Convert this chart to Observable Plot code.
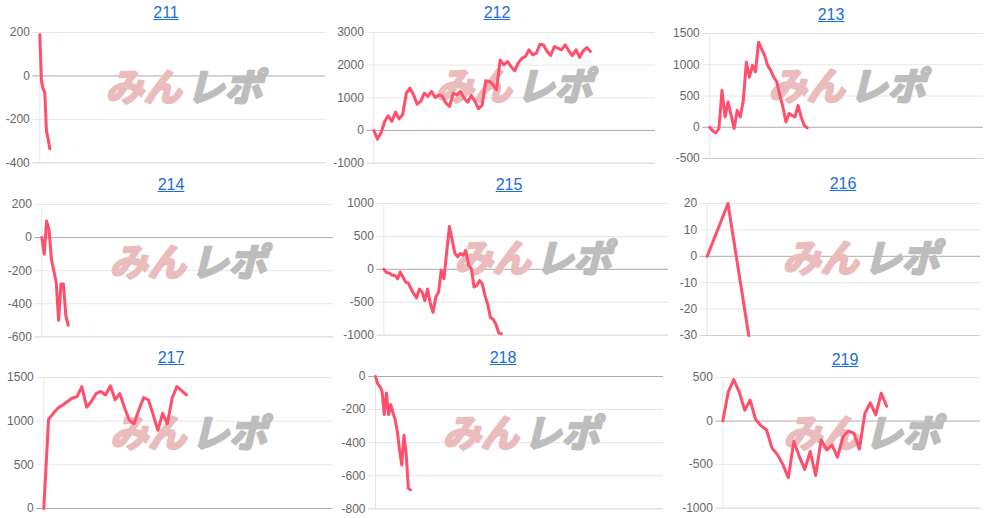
<!DOCTYPE html>
<html>
<head>
<meta charset="utf-8">
<script src="https://cdn.jsdelivr.net/npm/d3@7"></script>
<script src="https://cdn.jsdelivr.net/npm/@observablehq/plot@0.6"></script>
<style>
  html, body { margin: 0; padding: 0; background: #fff; }
  #wrap { position: relative; width: 990px; height: 518px; overflow: hidden; font-family: "Liberation Sans", Arial, sans-serif; }
  .ttl { position: absolute; transform: translate(-50%, -50%); color: #1a6ed8; text-decoration: underline; font-size: 16px; line-height: 1; white-space: nowrap; }
</style>
</head>
<body>
<div id="wrap"></div>
<script>
// ---- data ----
const ids = ["211", "212", "213", "214", "215", "216", "217", "218", "219"];

const v211 = [190, -25, -60, -75, -255, -290, -335];
const v212 = [0, -265, -80, 275, 450, 275, 560, 355, 480, 1140, 1295, 1090, 805, 890, 1140, 1040, 1195, 1010, 1090, 1040, 835, 735, 1140, 1090, 1195, 990, 865, 1070, 890, 665, 765, 1520, 1500, 1400, 1245, 2160, 2010, 2110, 1960, 1825, 2060, 2210, 2265, 2470, 2315, 2365, 2640, 2620, 2420, 2295, 2570, 2520, 2470, 2620, 2440, 2295, 2470, 2235, 2440, 2540, 2420];
const v213 = [0, -60, -90, -20, 590, 165, 405, 190, -20, 270, 165, 430, 1040, 800, 990, 885, 1360, 1255, 1150, 990, 910, 800, 725, 510, 325, 85, 220, 190, 165, 350, 165, 30, -10];
const v214 = [0, -100, 100, 50, -130, -200, -270, -500, -280, -280, -470, -530];
const v215 = [0, -50, -55, -90, -90, -145, -40, -120, -195, -210, -300, -375, -435, -300, -350, -475, -300, -520, -655, -425, -350, -15, -145, 265, 650, 445, 240, 190, 240, 215, 290, 60, 10, -270, -245, -170, -220, -400, -530, -735, -760, -835, -965, -980];
const v216 = [0, 20, -30];
const v217 = [0, 1020, 1090, 1150, 1185, 1225, 1265, 1280, 1395, 1160, 1225, 1315, 1340, 1300, 1405, 1245, 1315, 1150, 1010, 970, 1130, 1270, 1245, 1075, 895, 1090, 970, 1265, 1395, 1350, 1300];
const v218 = [0, -45, -60, -90, -230, -100, -230, -170, -220, -260, -335, -445, -535, -355, -465, -675, -685];
const v219 = [0, 335, 475, 335, 125, 240, 20, -55, -100, -310, -385, -500, -650, -235, -405, -555, -350, -625, -215, -330, -275, -415, -180, -115, -140, -320, 85, 210, 70, 320, 170];

const t211 = [-400, -200, 0, 200];
const t212 = [-1000, 0, 1000, 2000, 3000];
const t213 = [-500, 0, 500, 1000, 1500];
const t214 = [-600, -400, -200, 0, 200];
const t215 = [-1000, -500, 0, 500, 1000];
const t216 = [-30, -20, -10, 0, 10, 20];
const t217 = [0, 500, 1000, 1500];
const t218 = [-800, -600, -400, -200, 0];
const t219 = [-1000, -500, 0, 500];

// share of each panel's x range covered by its session
const spans = [0.035, 0.769, 0.356, 0.0905, 0.413, 0.152, 0.494, 0.1215, 0.636];

const series = [v211, v212, v213, v214, v215, v216, v217, v218, v219];
const tickSets = [t211, t212, t213, t214, t215, t216, t217, t218, t219];

// ---- layout (pixels) ----
const layout = [
  {px: 0,   axisX: 39.3,  gridEnd: 325, top: 31.7,  bottom: 162,   tx: 166, ty: 13,    wx: 183,   wy: 88},
  {px: 330, axisX: 373.3, gridEnd: 655, top: 31.7,  bottom: 162.3, tx: 497, ty: 13,    wx: 513,   wy: 87},
  {px: 660, axisX: 709.3, gridEnd: 983, top: 33.3,  bottom: 158.3, tx: 831, ty: 15,    wx: 846,   wy: 88},
  {px: 0,   axisX: 41.3,  gridEnd: 333, top: 204.3, bottom: 336.7, tx: 171, ty: 185,   wx: 187,   wy: 264},
  {px: 330, axisX: 383.3, gridEnd: 668, top: 202.7, bottom: 334.3, tx: 509, ty: 184.5, wx: 532,   wy: 259},
  {px: 660, axisX: 706.7, gridEnd: 980, top: 203,   bottom: 335,   tx: 843, ty: 183.5, wx: 860,   wy: 259},
  {px: 0,   axisX: 43.3,  gridEnd: 332, top: 377.3, bottom: 508.3, tx: 171, ty: 358,   wx: 187.5, wy: 435},
  {px: 330, axisX: 375,   gridEnd: 663, top: 376.3, bottom: 508.7, tx: 503, ty: 358,   wx: 520,   wy: 435},
  {px: 660, axisX: 722.3, gridEnd: 980, top: 377.3, bottom: 508,   tx: 845, ty: 360,   wx: 861,   wy: 435}
];

const wrap = document.getElementById("wrap");
const PAD = 12;
const wmFont = '"Noto Sans CJK JP", sans-serif';

ids.forEach((id, i) => {
  const L = layout[i];
  const vals = series[i];
  const ticks = tickSets[i];
  const data = vals.map((v, k) => ({k, v}));
  const xMax = (vals.length - 1) / spans[i];
  const w = L.gridEnd - L.px;
  const h = (L.bottom - L.top) + 2 * PAD;
  const lo = ticks[0], hi = ticks[ticks.length - 1];
  const wmDx = L.wx - L.axisX;
  const wmDy = L.wy - L.top;

  const chart = Plot.plot({
    width: w,
    height: h,
    marginLeft: L.axisX - L.px,
    marginRight: 0,
    marginTop: PAD,
    marginBottom: PAD,
    style: {fontFamily: '"Liberation Sans", Arial, sans-serif', fontSize: "12px", background: "transparent", overflow: "visible"},
    x: {domain: [0, xMax], axis: null},
    y: {domain: [lo, hi], axis: null},
    marks: [
      Plot.ruleY(ticks, {stroke: d => d === 0 ? "#a9a9a9" : (d === lo ? "#d0d0d0" : "#e6e6e6"), insetLeft: -7}),
      Plot.ruleX([0], {stroke: "#e6e6e6"}),
      Plot.text(["みん"], {frameAnchor: "top-left", dx: wmDx - 40, dy: wmDy, text: d => d, fontSize: 38, fontWeight: "bold", fontStyle: "italic", fontFamily: wmFont, fill: "#ebbcbc", stroke: "#ebbcbc", strokeWidth: 2.5, textAnchor: "middle", lineAnchor: "middle"}),
      Plot.text(["レポ"], {frameAnchor: "top-left", dx: wmDx + 41, dy: wmDy, text: d => d, fontSize: 38, fontWeight: "bold", fontStyle: "italic", fontFamily: wmFont, fill: "#bdbdbd", stroke: "#bdbdbd", strokeWidth: 2.5, textAnchor: "middle", lineAnchor: "middle"}),
      Plot.axisY(ticks, {label: null, tickSize: 0, tickPadding: 10, fill: "#666", fontSize: 12, tickFormat: d => String(d)}),
      Plot.line(data, {x: "k", y: "v", stroke: "#ff4f6d", strokeWidth: 3, strokeLinejoin: "round", strokeLinecap: "round"})
    ]
  });
  chart.style.position = "absolute";
  chart.style.left = L.px + "px";
  chart.style.top = (L.top - PAD) + "px";
  wrap.appendChild(chart);

  const t = document.createElement("span");
  t.className = "ttl";
  t.textContent = id;
  t.style.left = L.tx + "px";
  t.style.top = L.ty + "px";
  wrap.appendChild(t);
});
</script>
</body>
</html>
